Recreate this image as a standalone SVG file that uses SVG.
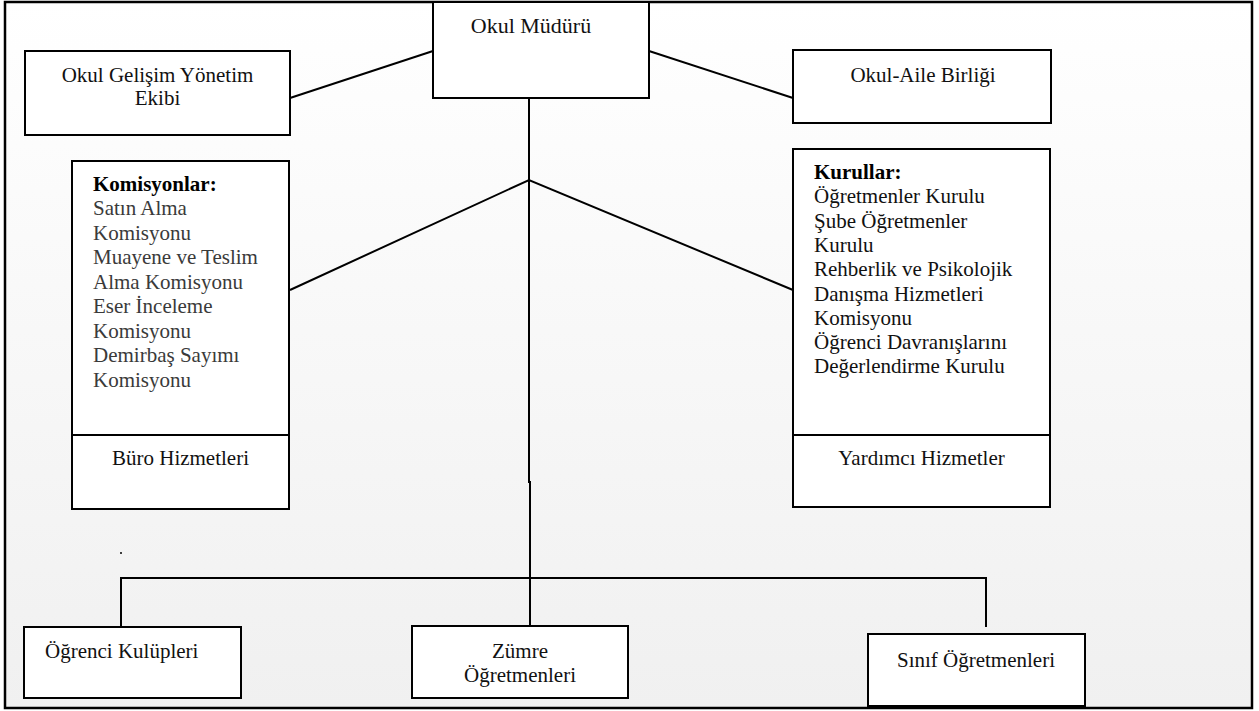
<svg xmlns="http://www.w3.org/2000/svg" width="1259" height="711" viewBox="0 0 1259 711">
<defs>
<linearGradient id="bg" x1="0" y1="0" x2="0" y2="1">
<stop offset="0" stop-color="#ffffff"/>
<stop offset="1" stop-color="#f0f0f0"/>
</linearGradient>
</defs>
<style>
.box{fill:#ffffff;stroke:#000;stroke-width:2}
.ln{fill:none;stroke:#000;stroke-width:2}
text{font-size:21px;fill:#111}
.c{text-anchor:middle}
.b{font-weight:bold;fill:#000}
.g{fill:#3a3a3a}
</style>
<rect x="5" y="2" width="1247" height="706" fill="url(#bg)" stroke="#000" stroke-width="2.5"/>
<g id="connectors">
<line class="ln" x1="290" y1="98" x2="433" y2="51"/>
<line class="ln" x1="649" y1="51" x2="793" y2="98"/>
<polyline class="ln" points="529,98 529,482 530,482 530,626"/>
<polyline class="ln" points="290,290 529,180 793,290"/>
<polyline class="ln" points="121,627 121,578 986,578 986,627"/>
<circle cx="121" cy="553" r="1" fill="#000"/>
</g>
<g font-family="'Liberation Serif', 'Times New Roman', 'DejaVu Serif', serif">
<g id="okul-muduru">
<rect class="box" x="433" y="2" width="216" height="96"/>
<text x="531" y="33" class="c" style="font-size:22px">Okul Müdürü</text>
</g>
<g id="okul-gelisim">
<rect class="box" x="25" y="51" width="265" height="84"/>
<text x="157.5" y="82" class="c">Okul Gelişim Yönetim</text>
<text x="157.5" y="105" class="c">Ekibi</text>
</g>
<g id="okul-aile">
<rect class="box" x="793" y="50" width="258" height="73"/>
<text x="923" y="82" class="c">Okul-Aile Birliği</text>
</g>
<g id="komisyonlar">
<rect class="box" x="72" y="161" width="217" height="348"/>
<line class="ln" x1="72" y1="435" x2="289" y2="435"/>
<text x="93" y="190.5" class="b">Komisyonlar:</text>
<text x="93" y="215" class="g">Satın Alma</text>
<text x="93" y="239.5" class="g">Komisyonu</text>
<text x="93" y="264" class="g">Muayene ve Teslim</text>
<text x="93" y="288.5" class="g">Alma Komisyonu</text>
<text x="93" y="313" class="g">Eser İnceleme</text>
<text x="93" y="337.5" class="g">Komisyonu</text>
<text x="93" y="362" class="g">Demirbaş Sayımı</text>
<text x="93" y="386.5" class="g">Komisyonu</text>
<text x="180.5" y="465" class="c">Büro Hizmetleri</text>
</g>
<g id="kurullar">
<rect class="box" x="793" y="149" width="257" height="358"/>
<line class="ln" x1="793" y1="435" x2="1050" y2="435"/>
<text x="814" y="179" class="b">Kurullar:</text>
<text x="814" y="203.3">Öğretmenler Kurulu</text>
<text x="814" y="227.6">Şube Öğretmenler</text>
<text x="814" y="251.9">Kurulu</text>
<text x="814" y="276.2">Rehberlik ve Psikolojik</text>
<text x="814" y="300.5">Danışma Hizmetleri</text>
<text x="814" y="324.8">Komisyonu</text>
<text x="814" y="349.1">Öğrenci Davranışlarını</text>
<text x="814" y="373.4">Değerlendirme Kurulu</text>
<text x="921.5" y="465" class="c">Yardımcı Hizmetler</text>
</g>
<g id="ogrenci-kulupleri">
<rect class="box" x="24" y="627" width="217" height="71"/>
<text x="45" y="658">Öğrenci Kulüpleri</text>
</g>
<g id="zumre">
<rect class="box" x="412" y="626" width="216" height="72"/>
<text x="520" y="658" class="c">Zümre</text>
<text x="520" y="682" class="c">Öğretmenleri</text>
</g>
<g id="sinif">
<rect class="box" x="868" y="634" width="217" height="72"/>
<text x="976" y="667" class="c">Sınıf Öğretmenleri</text>
</g>
</g>
</svg>
